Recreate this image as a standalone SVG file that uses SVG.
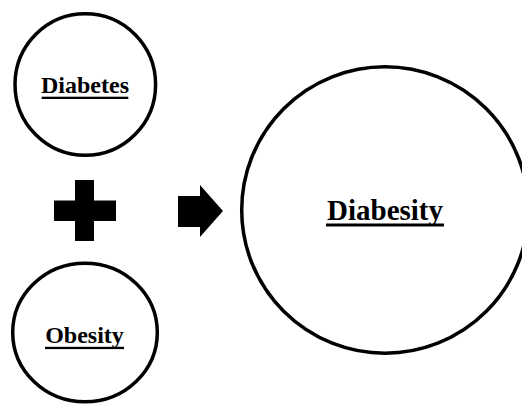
<svg xmlns="http://www.w3.org/2000/svg" width="522" height="406" viewBox="0 0 522 406">
<style>
.node{fill:#fff;stroke:#000;stroke-width:3.5}
.lbl{font-family:"Liberation Serif","Times New Roman",serif;font-weight:bold;fill:#000;text-anchor:middle}
.sym{fill:#000;stroke:none}
</style>
<rect width="522" height="406" fill="#fff"/>
<g id="diabetes">
<ellipse class="node" cx="85.3" cy="84.5" rx="70.3" ry="70.8"/>
<text class="lbl" x="85" y="93" font-size="24">Diabetes</text>
<rect class="sym" x="41.7" y="96.7" width="86.6" height="2.3"/>
</g>
<g id="obesity">
<ellipse class="node" cx="85" cy="332.5" rx="72.3" ry="69.3"/>
<text class="lbl" x="84.5" y="342.7" font-size="24">Obesity</text>
<rect class="sym" x="45" y="346.8" width="79" height="2.3"/>
</g>
<g id="diabesity">
<circle class="node" cx="385" cy="210" r="143.3"/>
<text class="lbl" x="385" y="220" font-size="29">Diabesity</text>
<rect class="sym" x="326" y="223.5" width="118" height="3"/>
</g>
<g id="connectors">
<polygon class="sym" points="75,180 94,180 94,200.5 116,200.5 116,221 94,221 94,241 75,241 75,221 54,221 54,200.5 75,200.5"/>
<polygon class="sym" points="178,196 200,196 200,185 223,211 200,237 200,227 178,227"/>
</g>
</svg>
